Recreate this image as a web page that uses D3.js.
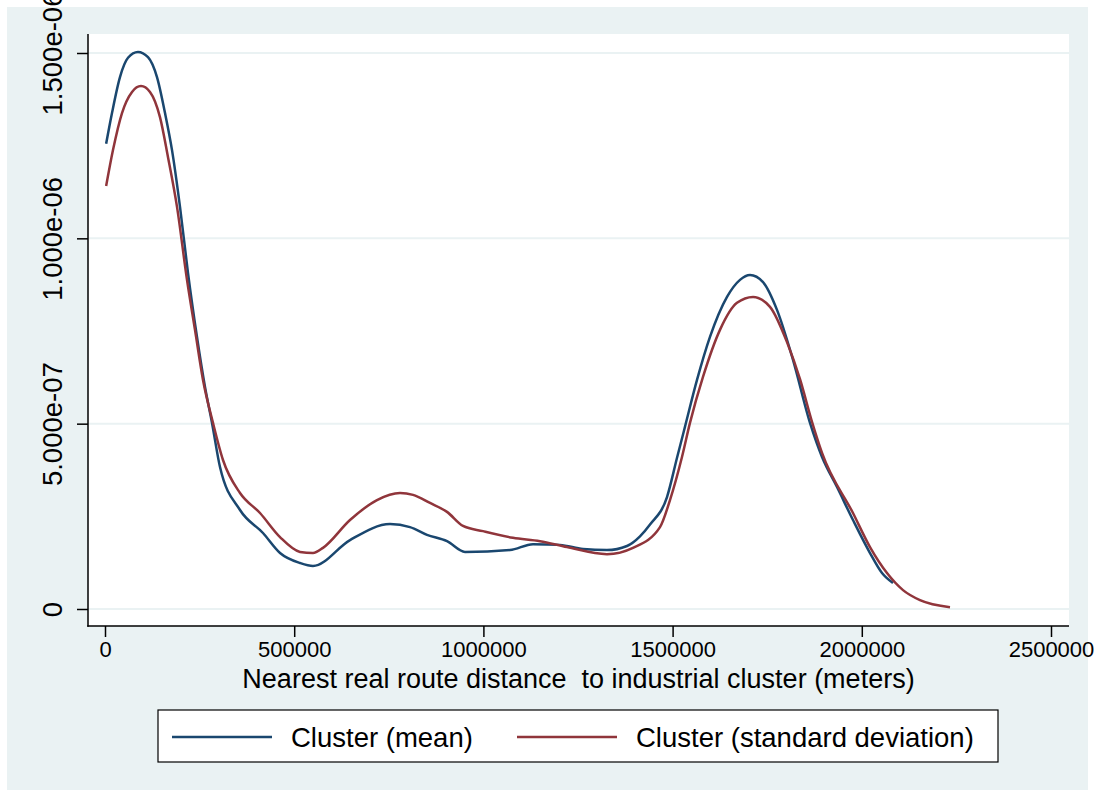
<!DOCTYPE html>
<html>
<head>
<meta charset="utf-8">
<script src="https://cdn.jsdelivr.net/npm/d3@7"></script>
<style>
  body { margin: 0; background: #fff; }
  text { font-family: "Liberation Sans", Arial, sans-serif; fill: #000; }
</style>
</head>
<body>
<div id="chart"></div>
<script>
// kernel density estimates (x in meters, y density)
const meanX = [3000, 18500, 39600, 60800, 87200, 113600, 137400, 158600, 177100, 198200,
  219300, 243100, 264300, 282800, 303900, 356800, 417500, 462500, 515300, 549700,
  647500, 753200, 806000, 850900, 903800, 951400, 1070300, 1131100, 1202400, 1263200,
  1326600, 1379500, 1413800, 1440300, 1485200, 1511700, 1532800, 1564500, 1598800, 1643800,
  1678100, 1704600, 1738900, 1775900, 1818200, 1863100, 1894900, 1934500, 1976700, 2021700,
  2053400, 2082400];
const meanY = [1.255e-6, 1.338e-6, 1.435e-6, 1.487e-6, 1.503e-6, 1.489e-6, 1.435e-6, 1.338e-6, 1.238e-6, 1.085e-6,
  0.907e-6, 0.734e-6, 0.599e-6, 0.502e-6, 0.383e-6, 0.267e-6, 0.205e-6, 0.151e-6, 0.124e-6, 0.116e-6,
  0.186e-6, 0.229e-6, 0.221e-6, 0.200e-6, 0.183e-6, 0.154e-6, 0.159e-6, 0.175e-6, 0.173e-6, 0.162e-6,
  0.159e-6, 0.170e-6, 0.196e-6, 0.228e-6, 0.302e-6, 0.408e-6, 0.492e-6, 0.618e-6, 0.734e-6, 0.842e-6,
  0.888e-6, 0.901e-6, 0.882e-6, 0.807e-6, 0.672e-6, 0.502e-6, 0.410e-6, 0.329e-6, 0.240e-6, 0.151e-6,
  0.097e-6, 0.070e-6];

const sdX = [3000, 21100, 44900, 71400, 95100, 118900, 145300, 166500, 190300, 216700,
  237800, 259000, 285400, 311800, 356800, 409600, 462500, 515300, 549700, 576100,
  647500, 718800, 779600, 814000, 858900, 903800, 946100, 998900, 1078200, 1149600,
  1220900, 1326600, 1395300, 1466700, 1493100, 1524800, 1545900, 1580300, 1625200, 1670200,
  1712500, 1757400, 1802300, 1836700, 1868400, 1894900, 1976700, 2021700, 2066600, 2108900,
  2153800, 2233100];
const sdY = [1.141e-6, 1.238e-6, 1.338e-6, 1.395e-6, 1.411e-6, 1.395e-6, 1.327e-6, 1.219e-6, 1.085e-6, 0.888e-6,
  0.753e-6, 0.618e-6, 0.502e-6, 0.402e-6, 0.313e-6, 0.259e-6, 0.194e-6, 0.154e-6, 0.151e-6, 0.165e-6,
  0.240e-6, 0.294e-6, 0.313e-6, 0.308e-6, 0.286e-6, 0.262e-6, 0.224e-6, 0.210e-6, 0.192e-6, 0.183e-6,
  0.167e-6, 0.148e-6, 0.165e-6, 0.221e-6, 0.294e-6, 0.410e-6, 0.502e-6, 0.626e-6, 0.753e-6, 0.826e-6,
  0.842e-6, 0.815e-6, 0.720e-6, 0.620e-6, 0.505e-6, 0.421e-6, 0.259e-6, 0.167e-6, 0.097e-6, 0.051e-6,
  0.024e-6, 0.005e-6];

const xTicks = [0, 500000, 1000000, 1500000, 2000000, 2500000];
const yTicks = [0, 5e-7, 1e-6, 1.5e-6];
const yTickLabels = ['0', '5.000e-07', '1.000e-06', '1.500e-06'];
const seriesNames = ['Cluster (mean)', 'Cluster (standard deviation)'];
const seriesColors = ['#1a476f', '#90353b'];
const xTitle = 'Nearest real route distance  to industrial cluster (meters)';

function drawChart() {
  const w = 1095;
  const h = 797;
  const plot = { left: 88, right: 1069, top: 34, bottom: 626 };

  const svg = d3.select('#chart').append('svg').attr('width', w).attr('height', h);

  svg.append('rect').attr('width', w).attr('height', h).attr('fill', '#fff');
  svg.append('rect').attr('x', 7).attr('y', 7).attr('width', 1081).attr('height', 783).attr('fill', '#eaf2f3');
  svg.append('rect')
    .attr('x', plot.left).attr('y', plot.top)
    .attr('width', plot.right - plot.left).attr('height', plot.bottom - plot.top)
    .attr('fill', '#fff');

  const x = d3.scaleLinear().domain([0, 2500000]).range([105, 1051]);
  const y = d3.scaleLinear().domain([0, 1.5e-6]).range([609, 53]);

  // gridlines
  svg.selectAll('line.grid')
    .data(yTicks)
    .enter()
    .append('line')
    .attr('class', 'grid')
    .attr('x1', plot.left).attr('x2', plot.right)
    .attr('y1', (d) => y(d)).attr('y2', (d) => y(d))
    .attr('stroke', '#eaf2f3')
    .attr('stroke-width', 2);

  // x axis
  const gx = svg.append('g')
    .attr('transform', `translate(0,${plot.bottom})`)
    .call(d3.axisBottom(x).tickValues(xTicks).tickFormat(d3.format('d')).tickSize(11).tickPadding(6));
  gx.select('.domain').remove();
  gx.selectAll('.tick line').attr('stroke', '#000').attr('stroke-width', 1.5);
  gx.selectAll('.tick text').attr('font-size', 22).attr('y', 31).attr('dy', 0)
    .style('font-family', '"Liberation Sans", Arial, sans-serif');

  // y axis, labels turned upright like stata does
  const gy = svg.append('g')
    .attr('transform', `translate(${plot.left},0)`)
    .call(d3.axisLeft(y).tickValues(yTicks).tickFormat((d, i) => yTickLabels[i]).tickSize(11));
  gy.select('.domain').remove();
  gy.selectAll('.tick line').attr('stroke', '#000').attr('stroke-width', 1.5);
  gy.selectAll('.tick text')
    .attr('transform', 'rotate(-90)')
    .attr('x', 0).attr('y', -26).attr('dy', 0)
    .attr('text-anchor', 'middle')
    .attr('font-size', 27.5)
    .style('font-family', '"Liberation Sans", Arial, sans-serif');

  // axis lines
  svg.append('line').attr('x1', plot.left).attr('x2', plot.left)
    .attr('y1', plot.top).attr('y2', plot.bottom + 0.75)
    .attr('stroke', '#000').attr('stroke-width', 1.5);
  svg.append('line').attr('x1', plot.left - 0.75).attr('x2', plot.right)
    .attr('y1', plot.bottom).attr('y2', plot.bottom)
    .attr('stroke', '#000').attr('stroke-width', 1.5);

  // curves
  const line = d3.line().x((d) => x(d[0])).y((d) => y(d[1])).curve(d3.curveMonotoneX);
  const series = [d3.zip(meanX, meanY), d3.zip(sdX, sdY)];
  svg.selectAll('path.kd')
    .data(series)
    .enter()
    .append('path')
    .attr('class', 'kd')
    .attr('d', line)
    .attr('fill', 'none')
    .attr('stroke', (d, i) => seriesColors[i])
    .attr('stroke-width', 2.5);

  // x title
  svg.append('text')
    .attr('x', (plot.left + plot.right) / 2).attr('y', 688)
    .attr('text-anchor', 'middle')
    .attr('font-size', 27)
    .style('white-space', 'pre')
    .text(xTitle);

  // legend
  const lg = svg.append('g');
  lg.append('rect').attr('x', 158).attr('y', 710).attr('width', 840).attr('height', 52)
    .attr('fill', '#fff').attr('stroke', '#000').attr('stroke-width', 1.2);
  const items = lg.selectAll('g.item')
    .data(seriesNames)
    .enter()
    .append('g')
    .attr('class', 'item')
    .attr('transform', (d, i) => `translate(${i === 0 ? 172 : 517},737)`);
  items.append('line').attr('x1', 0).attr('x2', 100).attr('y1', 0).attr('y2', 0)
    .attr('stroke', (d, i) => seriesColors[i]).attr('stroke-width', 2.5);
  items.append('text').attr('x', 119).attr('y', 9.5)
    .attr('font-size', 27.5)
    .text((d) => d);
}

window.onload = function () {
  drawChart();
};
</script>
</body>
</html>
